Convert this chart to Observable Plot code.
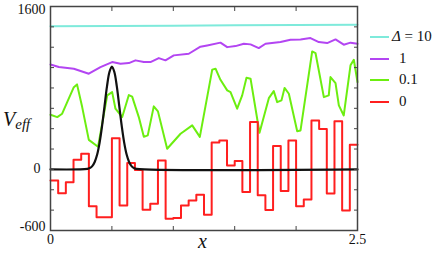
<!DOCTYPE html>
<html>
<head>
<meta charset="utf-8">
<script src="https://cdn.jsdelivr.net/npm/d3@7"></script>
<script src="https://cdn.jsdelivr.net/npm/@observablehq/plot@0.6"></script>
<style>
  body { margin: 0; background: white; }
  #wrap { position: relative; width: 436px; height: 259px; font-family: 'Liberation Serif', 'Times New Roman', Times, 'DejaVu Serif', serif; color: #111; }
  #wrap svg { position: absolute; left: 0; top: 0; }
  #wrap svg text { font-family: 'Liberation Serif', 'Times New Roman', Times, 'DejaVu Serif', serif; }
  .lbl { position: absolute; line-height: 1; white-space: nowrap; }
  .leg { position: absolute; left: 370px; display: flex; align-items: center; font-size: 15px; line-height: 1; }
  .leg .sw { width: 19px; height: 0; border-top: 2.5px solid; margin-right: 3px; }
</style>
</head>
<body>
<div id="wrap"></div>
<script>
// ---- data ----
const cyanX = [0, 0.5, 1.0, 1.5, 2.0, 2.5];
const cyanY = [1405, 1408, 1412, 1415, 1418, 1420];

const purpleX = [0, 0.068, 0.190, 0.312, 0.407, 0.502, 0.570, 0.638, 0.692, 0.760, 0.814, 0.882, 0.936, 1.004, 1.126, 1.221, 1.276, 1.384, 1.439, 1.507, 1.574, 1.629, 1.696, 1.751, 1.873, 1.954, 2.036, 2.117, 2.185, 2.253, 2.321, 2.388, 2.443, 2.5];
const purpleY = [1031, 1006, 989, 940, 1005, 1054, 1038, 1044, 1071, 1054, 1054, 1093, 1071, 1120, 1136, 1205, 1218, 1245, 1201, 1211, 1234, 1228, 1192, 1234, 1251, 1274, 1277, 1290, 1251, 1241, 1277, 1225, 1245, 1234];

const greenX = [0, 0.055, 0.095, 0.136, 0.190, 0.216, 0.258, 0.312, 0.387, 0.462, 0.502, 0.529, 0.584, 0.638, 0.665, 0.719, 0.760, 0.792, 0.841, 0.875, 0.950, 1.059, 1.154, 1.216, 1.317, 1.344, 1.384, 1.439, 1.466, 1.520, 1.561, 1.596, 1.629, 1.702, 1.778, 1.818, 1.846, 1.881, 1.906, 1.941, 2.009, 2.036, 2.131, 2.158, 2.226, 2.266, 2.280, 2.321, 2.348, 2.388, 2.443, 2.470, 2.5];
const greenY = [537, 514, 547, 661, 808, 835, 612, 290, 222, 727, 759, 596, 514, 730, 715, 514, 320, 334, 619, 570, 203, 350, 432, 320, 980, 989, 880, 776, 759, 596, 727, 901, 891, 360, 700, 769, 661, 678, 800, 743, 375, 383, 1159, 1143, 710, 727, 907, 848, 629, 530, 1022, 1077, 858];

// red: 40 equal steps of width 0.0625 on [0, 2.5]
const redStep = 0.0625;
const redY = [-108, -233, -125, 95, 154, -363, -469, -469, 307, -354, 62, -5, -396, -337, 88, -484, -476, -354, -305, -248, -445, 265, 285, 39, 82, -223, 465, -255, -398, 229, -213, 285, -363, -295, 481, 398, -236, 472, -403, 241];

// black: potential bump centred at x = 0.5
const blackX = [0, 0.30, 0.32, 0.34, 0.36, 0.38, 0.40, 0.42, 0.44, 0.46, 0.48, 0.50, 0.52, 0.54, 0.56, 0.58, 0.60, 0.62, 0.64, 0.66, 0.68, 0.70, 2.5];
const blackY = [0, 5, 13, 32, 73, 146, 263, 427, 622, 815, 957, 1010, 957, 815, 622, 427, 263, 146, 73, 32, 13, 5, 0];

const yTicks = [-600, -400, -200, 0, 200, 400, 600, 800, 1000, 1200, 1400, 1600];
const yLabelTop = [1600];
const yLabelBottom = [-600];
const yLabelZero = [0];
const xTicks = [0, 0.5, 1.0, 1.5, 2.0, 2.5];
const xLabels = [0, 2.5];

const seriesNames = ["10", "1", "0.1", "0"];
const seriesColors = ["#7eeadb", "#b345f2", "#6cee10", "#ff1f1f"];

// ---- build tables ----
const zip = (xs, ys) => xs.map((x, i) => ({x, y: ys[i]}));
const cyan = zip(cyanX, cyanY);
const purple = zip(purpleX, purpleY);
const green = zip(greenX, greenY);
const red = redY.map((y, i) => ({x: i * redStep, y})).concat([{x: redY.length * redStep, y: redY[redY.length - 1]}]);
const black = zip(blackX, blackY);

const serif = "'Liberation Serif', 'Times New Roman', Times, 'DejaVu Serif', serif";
const fmt = d => d < 0 ? "-" + Math.abs(d) : String(d);

const plot = Plot.plot({
  width: 436,
  height: 259,
  marginLeft: 50,
  marginRight: 79,
  marginTop: 6,
  marginBottom: 29,
  style: {fontFamily: serif, fontSize: "14px", color: "#111", background: "transparent"},
  x: {domain: [0, 2.5]},
  y: {domain: [-600, 1600]},
  marks: [
    Plot.line(green, {x: "x", y: "y", stroke: seriesColors[2], strokeWidth: 2}),
    Plot.line(purple, {x: "x", y: "y", stroke: seriesColors[1], strokeWidth: 2}),
    Plot.line(cyan, {x: "x", y: "y", stroke: seriesColors[0], strokeWidth: 2}),
    Plot.line(red, {x: "x", y: "y", stroke: seriesColors[3], strokeWidth: 2, curve: "step-after"}),
    Plot.line(black, {x: "x", y: "y", stroke: "#111", strokeWidth: 2.2, curve: "catmull-rom"}),
    Plot.axisY({anchor: "left", ticks: yTicks, tickSize: 4, dx: 4, tickFormat: () => "", label: null, stroke: "#444"}),
    Plot.axisY({anchor: "right", ticks: yTicks, tickSize: 4, dx: -4, tickFormat: () => "", label: null, stroke: "#444"}),
    Plot.axisX({anchor: "bottom", ticks: xTicks, tickSize: 4, dy: -4, tickFormat: () => "", label: null, stroke: "#444"}),
    Plot.axisX({anchor: "top", ticks: xTicks, tickSize: 4, dy: 4, tickFormat: () => "", label: null, stroke: "#444"}),
    Plot.axisY({anchor: "left", ticks: yLabelTop, tickSize: 0, tickPadding: 5, dy: 3, tickFormat: fmt, label: null, fontSize: 14}),
    Plot.axisY({anchor: "left", ticks: yLabelBottom, tickSize: 0, tickPadding: 5, dy: -4, tickFormat: fmt, label: null, fontSize: 14}),
    Plot.axisY({anchor: "left", ticks: yLabelZero, tickSize: 0, tickPadding: 10, dy: -1, tickFormat: fmt, label: null, fontSize: 14}),
    Plot.axisX({anchor: "bottom", ticks: xLabels, tickSize: 0, tickPadding: 4, tickFormat: fmt, label: null, fontSize: 14}),
    Plot.frame({stroke: "#444", strokeWidth: 1.5})
  ]
});

const wrap = document.getElementById("wrap");
wrap.appendChild(plot);
d3.select(plot).selectAll("text").style("font-family", serif);

// axis titles
const xl = document.createElement("div");
xl.className = "lbl";
xl.style.cssText = "left:198px;top:231px;font-size:20px;font-style:italic;";
xl.textContent = "x";
wrap.appendChild(xl);

const yl = document.createElement("div");
yl.className = "lbl";
yl.style.cssText = "left:3px;top:109px;";
yl.innerHTML = '<span style="font-size:20px;font-style:italic">V</span><span style="font-size:15px;font-style:italic;position:relative;top:3px">eff</span>';
wrap.appendChild(yl);

// legend
const rowTops = [29, 51, 72, 94];
seriesNames.forEach((name, i) => {
  const row = document.createElement("div");
  row.className = "leg";
  row.style.top = rowTops[i] + "px";
  const sw = document.createElement("div");
  sw.className = "sw";
  sw.style.borderTopColor = seriesColors[i];
  row.appendChild(sw);
  const t = document.createElement("span");
  if (i === 0) {
    t.innerHTML = '<i>Δ</i> = ' + name;
  } else {
    t.style.marginLeft = "7px";
    t.textContent = name;
  }
  row.appendChild(t);
  wrap.appendChild(row);
});
</script>
</body>
</html>
